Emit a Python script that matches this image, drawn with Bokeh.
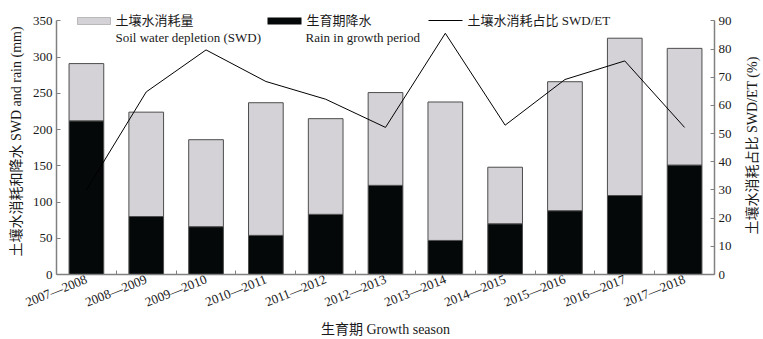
import math
from bokeh.plotting import figure
from bokeh.models import Range1d, LinearAxis, FixedTicker, Label, BoxAnnotation, ColumnDataSource
from bokeh.embed import file_html
from bokeh.resources import INLINE

seasons = ["2007—2008", "2008—2009", "2009—2010", "2010—2011", "2011—2012", "2012—2013",
           "2013—2014", "2014—2015", "2015—2016", "2016—2017", "2017—2018"]
rain = [212, 80, 66, 54, 83, 123, 47, 70, 88, 109, 151]
swd = [79, 144, 120, 183, 132, 128, 191, 78, 178, 217, 161]
ratio = [30, 64.8, 79.7, 68.5, 62.2, 52.2, 85.6, 53, 69.2, 75.8, 52.2]
left_ticks = [0, 50, 100, 150, 200, 250, 300, 350]
right_ticks = [0, 10, 20, 30, 40, 50, 60, 70, 80, 90]

FONT = "Liberation Serif, Noto Sans CJK SC"
TXT = "#1a1a1a"
AX = "#808080"

n = len(seasons)
centers = [i + 0.5 for i in range(n)]
src = ColumnDataSource(dict(x=centers, rain=rain, swd=swd, ratio=ratio))

p = figure(width=763, height=339, output_backend="svg", toolbar_location=None,
           x_range=Range1d(0, n), y_range=Range1d(0, 367.0),
           min_border_left=56, min_border_right=49, min_border_top=8, min_border_bottom=62,
           background_fill_color="white", border_fill_color="white")
p.extra_y_ranges = {"pct": Range1d(0, 94.4)}
p.outline_line_color = None
p.xgrid.visible = False
p.ygrid.visible = False

p.vbar_stack(["rain", "swd"], x="x", width=0.58, color=["#050808", "#d4d2d6"],
             line_color="#4d4d4d", line_width=1, source=src)
p.line("x", "ratio", y_range_name="pct", line_color="black", line_width=1, source=src)

def style_axis(ax):
    ax.axis_line_color = AX
    ax.axis_line_width = 1.5
    ax.major_tick_line_color = AX
    ax.minor_tick_line_color = AX
    ax.major_tick_in = 4
    ax.major_tick_out = 0
    ax.minor_tick_in = 0
    ax.minor_tick_out = 0
    ax.major_label_text_font = FONT
    ax.major_label_text_font_size = "13px"
    ax.major_label_text_color = TXT
    ax.axis_label_text_font = FONT
    ax.axis_label_text_font_size = "14px"
    ax.axis_label_text_font_style = "normal"
    ax.axis_label_text_color = TXT
    ax.major_label_standoff = 4

xa = p.xaxis[0]
style_axis(xa)
xa.ticker = FixedTicker(ticks=centers, minor_ticks=list(range(1, n)))
xa.major_label_overrides = {c: s for c, s in zip(centers, seasons)}
xa.major_tick_in = 0
xa.minor_tick_in = 4
xa.major_label_orientation = 0.38
xa.axis_label = "生育期 Growth season"
xa.axis_label_standoff = 2

ya = p.yaxis[0]
style_axis(ya)
ya.ticker = FixedTicker(ticks=left_ticks)
ya.bounds = (0, 350)
ya.axis_label = "土壤水消耗和降水 SWD and rain (mm)"
ya.axis_label_standoff = 6

ra = LinearAxis(y_range_name="pct", ticker=FixedTicker(ticks=right_ticks), bounds=(0, 90))
style_axis(ra)
p.add_layout(ra, "right")

# right axis title, placed in its own side panel (reads bottom-to-top)
p.add_layout(Label(x=18, y=129, x_units="screen", y_units="screen",
                   text="土壤水消耗占比 SWD/ET (%)", angle=math.pi / 2,
                   text_font=FONT, text_font_size="14px", text_color=TXT,
                   text_align="center", text_baseline="middle"), "right")

# legend (screen units relative to frame)
def box(l, r, b, t, fill, line):
    p.add_layout(BoxAnnotation(left=l, right=r, bottom=b, top=t, left_units="screen",
                               right_units="screen", bottom_units="screen", top_units="screen",
                               fill_color=fill, fill_alpha=1, line_color=line, line_width=1))

box(21, 54, 250, 257, "#d4d2d6", "#4d4d4d")
box(211, 245, 250, 257, "#050808", None)
box(372, 406, 253.5, 254.5, "black", None)

def lab(x, y, t):
    p.add_layout(Label(x=x, y=y, x_units="screen", y_units="screen", text=t,
                       text_font=FONT, text_font_size="13px", text_color=TXT,
                       text_baseline="middle", text_align="left"))

lab(59, 254, "土壤水消耗量")
lab(59, 237, "Soil water depletion (SWD)")
lab(250, 254, "生育期降水")
lab(249, 237, "Rain in growth period")
lab(411, 254, "土壤水消耗占比 SWD/ET")

open("out.html", "w").write(file_html(p, INLINE))
